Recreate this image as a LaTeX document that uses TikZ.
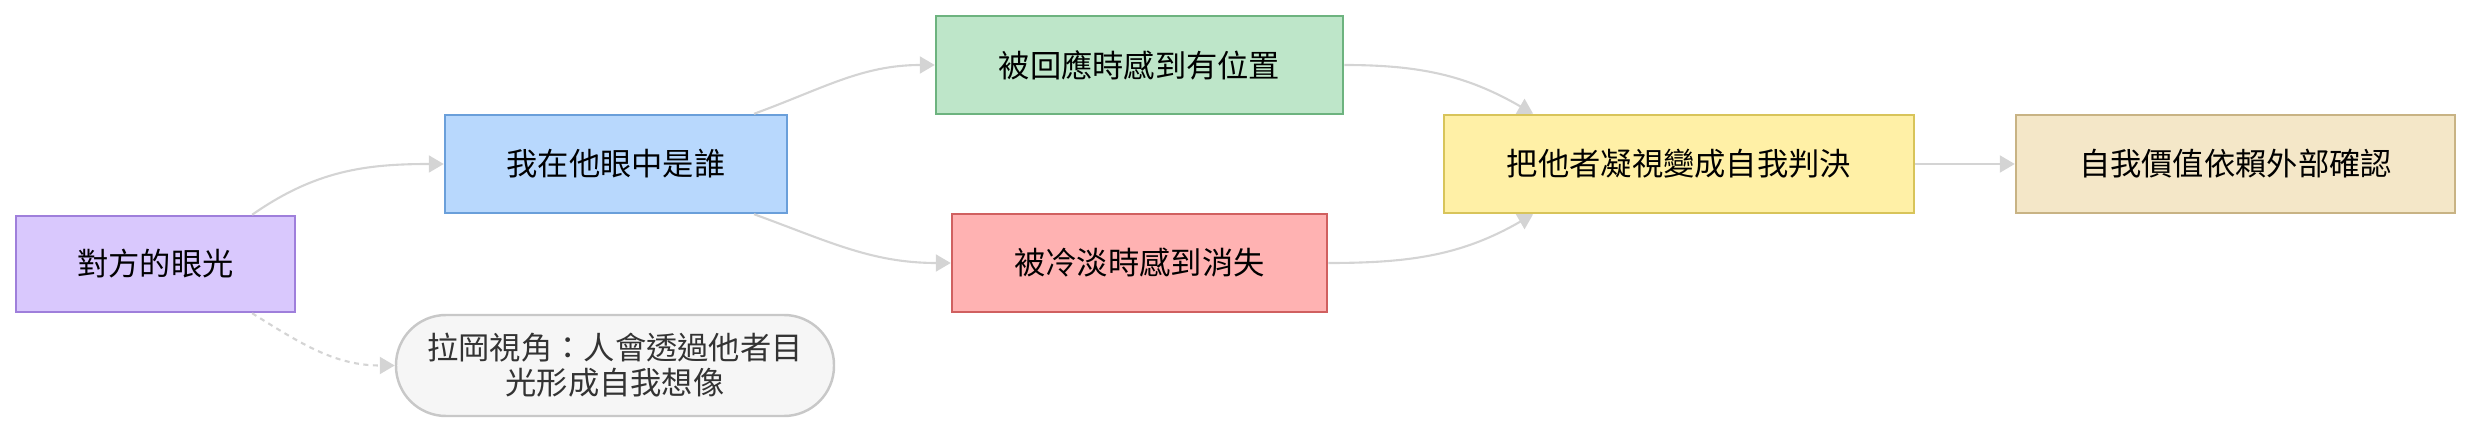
\documentclass[tikz,border=0pt]{standalone}
\usepackage{fontspec}
\setmainfont{Noto Sans CJK TC}
\usepackage{xcolor}
\usetikzlibrary{positioning,arrows.meta,calc}
\definecolor{gazefill}{HTML}{D9C8FD}
\definecolor{gazeline}{HTML}{9F7FDB}
\definecolor{selffill}{HTML}{B8D8FD}
\definecolor{selfline}{HTML}{6A9FDA}
\definecolor{seenfill}{HTML}{BEE6C9}
\definecolor{seenline}{HTML}{6DB37F}
\definecolor{lostfill}{HTML}{FFB2B2}
\definecolor{lostline}{HTML}{D06060}
\definecolor{judgefill}{HTML}{FFF0A6}
\definecolor{judgeline}{HTML}{D8C45A}
\definecolor{worthfill}{HTML}{F4E7C8}
\definecolor{worthline}{HTML}{C8B384}
\definecolor{notefill}{HTML}{F6F6F6}
\definecolor{noteline}{HTML}{C8C8C8}
\definecolor{link}{HTML}{D4D4D4}
\definecolor{ink}{HTML}{333333}

\begin{document}
\begin{tikzpicture}[
  font=\fontsize{8.9}{10}\selectfont,
  box/.style={draw,line width=0.7pt,minimum height=9.8mm,align=center,
              inner sep=0pt},
  note/.style={draw=noteline,fill=notefill,line width=0.7pt,rounded corners=5mm,
               minimum width=43.8mm,minimum height=10.1mm,align=center,
               text=ink,inner sep=0pt},
  flow/.style={draw=link,line width=0.6pt,
               -{Triangle[length=1.5mm,width=1.7mm]}},
  hint/.style={flow,dash pattern=on 0.5mm off 0.45mm}]
\useasboundingbox (0,0) rectangle (24.72,4.33);

\node[box,fill=gazefill,draw=gazeline,minimum width=27.9mm,minimum height=9.6mm]
  (gaze) at (1.555,1.69) {對方的眼光};
\node[box,fill=selffill,draw=selfline,minimum width=34.2mm] (self) at (6.16,2.69)
  {我在他眼中是誰};
\node[box,fill=seenfill,draw=seenline,minimum width=40.7mm] (seen) at (11.395,3.68)
  {被回應時感到有位置};
\node[box,fill=lostfill,draw=lostline,minimum width=37.5mm] (lost) at (11.395,1.70)
  {被冷淡時感到消失};
\node[box,fill=judgefill,draw=judgeline,minimum width=47mm] (judge) at (16.79,2.69)
  {把他者凝視變成自我判決};
\node[box,fill=worthfill,draw=worthline,minimum width=43.9mm] (worth) at (22.355,2.69)
  {自我價值依賴外部確認};
\node[note] (lacan) at (6.15,0.675)
  {拉岡視角：人會透過他者目\\光形成自我想像};

\draw[flow] (gaze.27) to[out=35,in=180] (self.west);
\draw[flow] (self.20) to[out=20,in=180] (seen.west);
\draw[flow] (self.-20) to[out=-20,in=180] (lost.west);
\draw[flow] (seen.east) to[out=0,in=150] (judge.161);
\draw[flow] (lost.east) to[out=0,in=210] (judge.199);
\draw[flow] (judge.east) -- (worth.west);
\draw[hint] (gaze.-27) to[out=-32,in=180] (lacan.west);
\end{tikzpicture}
\end{document}
